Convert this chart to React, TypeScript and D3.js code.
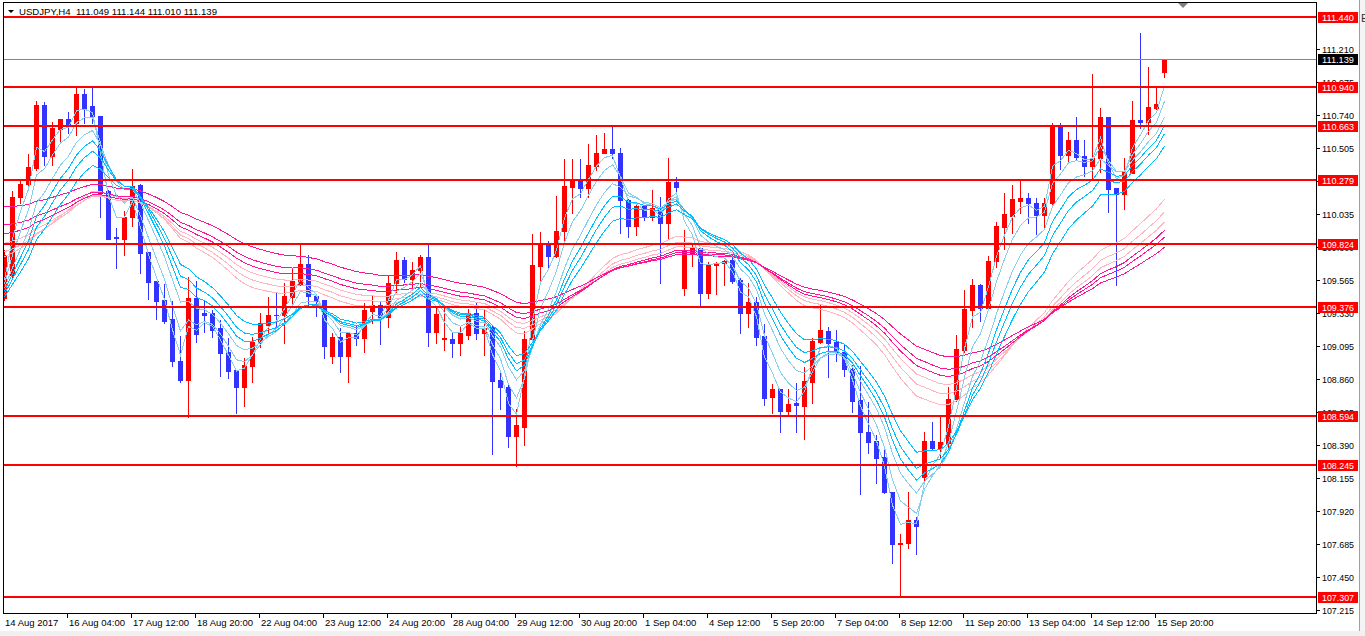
import React from 'react';
import * as d3 from 'd3';

const opens = [109.437,109.601,110.155,110.250,110.366,110.813,110.449,110.640,110.713,110.682,110.891,110.806,110.734,110.202,109.869,109.860,110.017,110.241,109.765,109.559,109.423,109.288,108.989,108.853,109.437,109.328,109.328,109.222,109.055,108.924,108.805,108.955,109.126,109.245,109.318,109.316,109.447,109.537,109.680,109.452,109.423,109.024,109.158,109.026,109.186,109.150,109.347,109.388,109.300,109.542,109.708,109.571,109.637,109.732,109.197,109.145,109.147,109.119,109.174,109.328,109.186,109.229,108.853,108.805,108.456,108.520,109.145,109.668,109.822,109.737,109.915,110.231,110.278,110.219,110.380,110.473,110.499,110.469,110.136,109.953,110.093,110.017,110.065,109.974,110.262,109.507,109.756,109.792,109.475,109.673,109.685,109.708,109.566,109.333,109.411,109.167,108.734,108.789,108.632,108.687,108.670,108.841,109.126,109.204,109.126,109.055,108.929,108.711,108.485,108.420,108.306,108.057,107.682,107.689,107.856,108.160,108.419,108.367,108.406,108.716,109.067,109.352,109.530,109.368,109.701,109.946,110.022,110.131,110.148,110.114,110.031,110.112,110.663,110.456,110.563,110.449,110.380,110.437,110.729,110.219,110.179,110.330,110.706,110.694,110.794,111.049];
const highs = [109.780,110.200,110.278,110.464,110.841,110.834,110.694,110.713,110.763,110.939,110.927,110.939,110.734,110.210,109.936,110.058,110.355,110.248,109.765,109.560,109.537,109.414,109.167,109.589,109.559,109.423,109.352,109.281,109.150,108.925,109.012,109.162,109.328,109.447,109.471,109.542,109.649,109.815,109.744,109.453,109.424,109.188,109.222,109.187,109.238,109.404,109.452,109.411,109.594,109.767,109.732,109.696,109.744,109.815,109.364,109.388,109.186,109.233,109.359,109.404,109.359,109.238,108.901,108.830,108.644,109.204,109.894,109.910,109.846,110.164,110.428,110.428,110.428,110.535,110.599,110.611,110.658,110.504,110.143,110.124,110.100,110.207,110.159,110.433,110.298,109.922,109.827,109.803,109.696,109.696,109.708,109.744,109.578,109.542,109.447,109.252,108.825,108.790,108.787,108.830,108.944,109.154,109.388,109.233,109.209,109.103,108.960,108.955,108.699,108.461,108.354,108.058,107.756,108.057,107.879,108.480,108.552,108.599,108.801,109.174,109.495,109.573,109.537,109.737,109.981,110.188,110.243,110.273,110.184,110.148,110.150,110.682,110.682,110.623,110.729,110.563,111.034,110.794,110.730,110.220,110.437,110.841,111.328,111.086,110.939,111.144];
const lows = [109.423,109.587,110.117,110.236,110.350,110.385,110.385,110.542,110.613,110.599,110.685,110.685,110.017,109.855,109.653,109.744,109.953,109.613,109.433,109.286,109.261,108.953,108.841,108.592,109.126,109.197,109.161,108.882,108.870,108.620,108.668,108.841,109.090,109.186,109.233,109.115,109.400,109.530,109.375,109.309,109.008,108.974,108.908,108.837,109.103,109.055,109.257,109.110,109.233,109.482,109.549,109.518,109.523,109.095,109.119,109.067,109.015,109.031,109.145,109.143,109.031,108.324,108.644,108.373,108.243,108.390,109.138,109.542,109.649,109.728,109.846,110.045,110.155,110.159,110.350,110.469,110.433,109.903,109.870,109.886,109.993,109.993,109.547,109.856,110.195,109.459,109.666,109.381,109.435,109.466,109.530,109.542,109.186,109.233,109.103,108.675,108.616,108.485,108.597,108.485,108.433,108.691,109.115,108.877,108.991,108.884,108.627,108.039,108.335,108.121,108.046,107.551,107.307,107.654,107.613,108.141,108.360,108.307,108.367,108.706,109.055,109.229,109.276,109.357,109.656,109.785,109.903,110.045,109.970,109.891,109.936,110.088,110.357,110.409,110.421,110.307,110.290,110.335,110.053,109.530,110.072,110.326,110.651,110.604,110.784,111.010];
const closes = [109.744,110.159,110.250,110.369,110.813,110.449,110.649,110.713,110.670,110.891,110.794,110.734,110.184,109.860,109.862,110.013,110.236,109.760,109.554,109.418,109.276,108.991,108.853,109.437,109.181,109.316,109.209,109.043,108.919,108.805,108.960,109.126,109.257,109.316,109.314,109.452,109.559,109.680,109.452,109.418,109.098,109.160,109.026,109.186,109.150,109.352,109.388,109.293,109.542,109.708,109.573,109.637,109.732,109.197,109.323,109.150,109.119,109.186,109.328,109.186,109.222,108.848,108.801,108.456,108.532,109.145,109.673,109.822,109.737,109.915,110.238,110.278,110.219,110.385,110.473,110.499,110.469,110.136,109.951,110.093,110.017,110.077,109.974,110.262,110.231,109.780,109.792,109.475,109.673,109.687,109.703,109.561,109.333,109.411,109.162,108.727,108.789,108.632,108.682,108.673,108.846,109.131,109.209,109.119,109.055,108.929,108.706,108.480,108.413,108.299,108.057,107.682,107.689,107.856,107.815,108.419,108.367,108.409,108.716,109.074,109.357,109.530,109.368,109.701,109.951,110.036,110.143,110.148,110.117,110.029,110.118,110.663,110.456,110.563,110.444,110.380,110.437,110.729,110.214,110.179,110.337,110.706,110.692,110.801,110.820,111.139];

const timeLabels = ['14 Aug 2017','16 Aug 04:00','17 Aug 12:00','18 Aug 20:00','22 Aug 04:00','23 Aug 12:00','24 Aug 20:00','28 Aug 04:00','29 Aug 12:00','30 Aug 20:00','1 Sep 04:00','4 Sep 12:00','5 Sep 20:00','7 Sep 04:00','8 Sep 12:00','11 Sep 20:00','13 Sep 04:00','14 Sep 12:00','15 Sep 20:00'];
const priceTicks = [111.210,110.975,110.740,110.505,110.270,110.035,109.800,109.565,109.330,109.095,108.860,108.625,108.390,108.155,107.920,107.685,107.450,107.215];
const levelPrices = [111.440,110.940,110.663,110.279,109.824,109.376,108.594,108.245,107.307];
const bidPrice = 111.139;
const headerText = 'USDJPY,H4  111.049 111.144 111.010 111.139';

const shortPeriods = [3,5,8,10,12,15];
const shortSeeds = [109.566,109.537,109.509,109.488,109.466,109.445];
const shortColors = ['#87CEEB','#87CEEB','#87CEEB','#00BFFF','#00BFFF','#00BFFF'];
const longPeriods = [30,35,40,45,50,60];
const longSeeds = [109.732,109.767,109.828,109.894,109.958,110.088];
const longColors = ['#FFB6C1','#FFB6C1','#FFB6C1','#FF1493','#FF1493','#FF1493'];

const BULL = '#FF0000';
const BEAR = '#3333FF';
const FONT = '"Liberation Sans", Arial, sans-serif';

function ema(period: number, seed: number): number[] {
  const a = 2 / (period + 1);
  const out: number[] = [];
  let v = seed;
  closes.forEach((c, i) => {
    if (i > 0) v = v + a * (c - v);
    out.push(v);
  });
  return out;
}

export default function App() {
  const W = 1365, H = 636;
  const left = 3, right = 1316, top = 2, bottom = 613;
  const n = closes.length;
  const x = d3.scaleLinear().domain([0, n - 1]).range([4.5, 4.5 + 8 * (n - 1)]);
  const y = d3.scaleLinear().domain([107.307, 111.44]).range([597, 17]);
  const line = d3.line<number>().x((_, i) => x(i)).y(v => y(v));

  const maLines = [
    ...longPeriods.map((p, k) => ({ d: line(ema(p, longSeeds[k])) || '', c: longColors[k] })),
    ...shortPeriods.map((p, k) => ({ d: line(ema(p, shortSeeds[k])) || '', c: shortColors[k] })),
  ];

  return (
    <svg width={W} height={H} style={{ position: 'absolute', left: 0, top: 0, background: '#fff' }} fontFamily={FONT}>
      <defs>
        <clipPath id="plot">
          <rect x={left + 1} y={top + 1} width={right - left - 1} height={bottom - top - 1} />
        </clipPath>
      </defs>
      <rect x={0} y={0} width={W} height={H} fill="#fff" />
      <g clipPath="url(#plot)">
        {closes.map((c, i) => {
          const o = opens[i];
          const col = c > o ? BULL : BEAR;
          const cx = Math.round(x(i) - 0.5);
          const yt = Math.round(y(Math.max(o, c)));
          const yb = Math.round(y(Math.min(o, c)));
          const yh = Math.round(y(highs[i]));
          const yl = Math.round(y(lows[i]));
          return (
            <g key={i} shapeRendering="crispEdges">
              <rect x={cx} y={yh} width={1} height={Math.max(1, yl - yh + 1)} fill={col} />
              <rect x={cx - 2} y={yt} width={5} height={Math.max(1, yb - yt + 1)} fill={col} />
            </g>
          );
        })}
        {maLines.map((m, k) => (
          <path key={k} d={m.d} fill="none" stroke={m.c} strokeWidth={1} shapeRendering="crispEdges" />
        ))}
        <rect x={left} y={Math.round(y(bidPrice))} width={right - left} height={1} fill="#778899" shapeRendering="crispEdges" />
        {levelPrices.map((p, k) => (
          <rect key={k} x={left} y={Math.round(y(p)) - 1} width={right - left} height={2} fill="#FF0000" shapeRendering="crispEdges" />
        ))}
      </g>

      {/* frame */}
      <rect x={left + 0.5} y={top + 0.5} width={right - left} height={bottom - top} fill="none" stroke="#000" strokeWidth={1} shapeRendering="crispEdges" />

      {/* header */}
      <path d="M8,10 L14,10 L11,13 Z" fill="#000" />
      <text x={19} y={15} fontSize={9.5} fill="#000" textLength={198} lengthAdjust="spacingAndGlyphs" style={{ whiteSpace: 'pre' }}>{headerText}</text>
      <path d="M1178,3 L1188,3 L1183,8 Z" fill="#808080" />

      {/* right axis ticks */}
      {priceTicks.map((p, k) => {
        const yy = Math.round(y(p));
        return (
          <g key={k}>
            <rect x={right + 1} y={yy} width={3} height={1} fill="#000" shapeRendering="crispEdges" />
            <text x={1322} y={yy + 3.5} fontSize={9.5} fill="#000" textLength={32} lengthAdjust="spacingAndGlyphs">{p.toFixed(3)}</text>
          </g>
        );
      })}
      {levelPrices.map((p, k) => {
        const yy = Math.round(y(p));
        return (
          <g key={k}>
            <rect x={1318} y={yy - 5} width={40} height={11} fill="#FF0000" shapeRendering="crispEdges" />
            <text x={1322} y={yy + 3.5} fontSize={9.5} fill="#fff" textLength={32} lengthAdjust="spacingAndGlyphs">{p.toFixed(3)}</text>
          </g>
        );
      })}
      {(() => {
        const yy = Math.round(y(bidPrice));
        return (
          <g>
            <rect x={1318} y={yy - 5} width={40} height={11} fill="#000" shapeRendering="crispEdges" />
            <text x={1322} y={yy + 3.5} fontSize={9.5} fill="#fff" textLength={32} lengthAdjust="spacingAndGlyphs">{bidPrice.toFixed(3)}</text>
          </g>
        );
      })()}

      {/* bottom axis */}
      {timeLabels.map((t, k) => {
        const tx = Math.round(x(k * 8) - 1.5);
        return (
          <g key={k}>
            {k > 0 && <rect x={tx} y={bottom + 1} width={1} height={4} fill="#000" shapeRendering="crispEdges" />}
            <text x={tx + 2} y={626} fontSize={9.5} fill="#000">{t}</text>
          </g>
        );
      })}

      {/* window edges */}
      <rect x={0} y={631} width={W} height={5} fill="#f0f0f0" />
      <rect x={1359} y={0} width={6} height={631} fill="#f4f4f4" />
      <rect x={1359} y={0} width={1} height={631} fill="#a0a0a0" shapeRendering="crispEdges" />
      <text x={1361} y={22} fontSize={11} fill="#333">E</text>
    </svg>
  );
}
